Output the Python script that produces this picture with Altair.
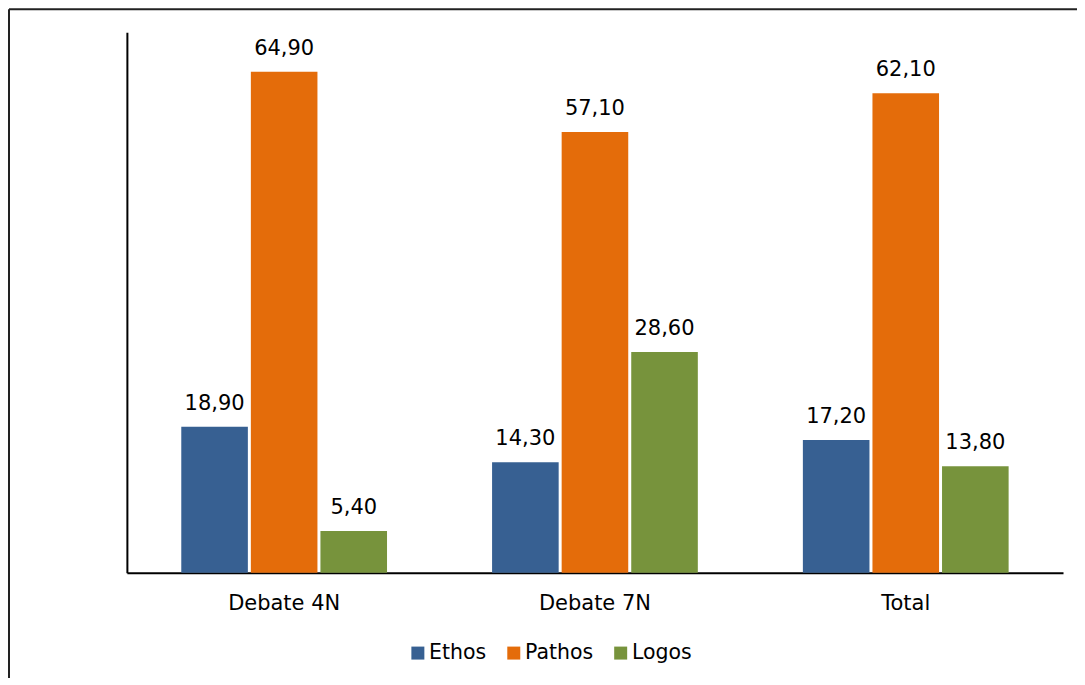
import altair as alt
import pandas as pd

groups = ["Debate 4N", "Debate 7N", "Total"]
series = ["Ethos", "Pathos", "Logos"]
ethos = [18.90, 14.30, 17.20]
pathos = [64.90, 57.10, 62.10]
logos = [5.40, 28.60, 13.80]
colors = ["#376092", "#E46C0A", "#77933C"]

rows = []
for i, g in enumerate(groups):
    for s, vals in zip(series, [ethos, pathos, logos]):
        v = vals[i]
        rows.append({"group": g, "series": s, "value": v,
                     "label": f"{v:.2f}".replace(".", ",")})
df = pd.DataFrame(rows)

FONT = "DejaVu Sans"
W, H = 937, 541

x = alt.X("group:N", sort=groups, title=None,
          scale=alt.Scale(paddingInner=0.338, paddingOuter=0.175),
          axis=alt.Axis(domainColor="black", domainWidth=2, ticks=False,
                        labelAngle=0, labelFont=FONT, labelFontSize=21,
                        labelColor="black", labelPadding=20, grid=False))
xo = alt.XOffset("series:N", sort=series,
                 scale=alt.Scale(paddingInner=0.043, paddingOuter=0))
y = alt.Y("value:Q", title=None,
          scale=alt.Scale(domain=[0, 70], nice=False),
          axis=alt.Axis(domainColor="black", domainWidth=2, ticks=False,
                        labels=False, grid=False))

base = alt.Chart(df)
bars = base.mark_bar(strokeWidth=0).encode(
    x=x, xOffset=xo, y=y,
    color=alt.Color("series:N", sort=series,
                    scale=alt.Scale(domain=series, range=colors),
                    legend=alt.Legend(title=None, orient="none",
                                      legendX=281, legendY=611,
                                      direction="horizontal",
                                      symbolType="square", symbolSize=169,
                                      symbolStrokeWidth=0,
                                      labelFont=FONT, labelFontSize=20.5,
                                      labelColor="black", labelOffset=1,
                                      columnPadding=17)),
)
texts = base.mark_text(font=FONT, fontSize=21, color="black",
                       baseline="alphabetic", dy=-17).encode(
    x=x, xOffset=xo, y=y, text="label:N")

border_top = alt.Chart(pd.DataFrame({"a": [0]})).mark_rule(
    color="#222222", strokeWidth=2).encode(
    x=alt.value(-118), x2=alt.value(W + 40), y=alt.value(-23))
border_left = alt.Chart(pd.DataFrame({"a": [0]})).mark_rule(
    color="#222222", strokeWidth=2).encode(
    x=alt.value(-118), y=alt.value(-23), y2=alt.value(H + 140))

chart = alt.layer(border_top, border_left, bars, texts).properties(
    width=W, height=H,
    background="white",
    autosize=alt.AutoSizeParams(type="none"),
    padding={"left": 119, "top": 24, "right": 14, "bottom": 105},
).configure_view(strokeWidth=0, stroke=None)

chart.save("out.html", embed_options={"renderer": "svg", "actions": False})
